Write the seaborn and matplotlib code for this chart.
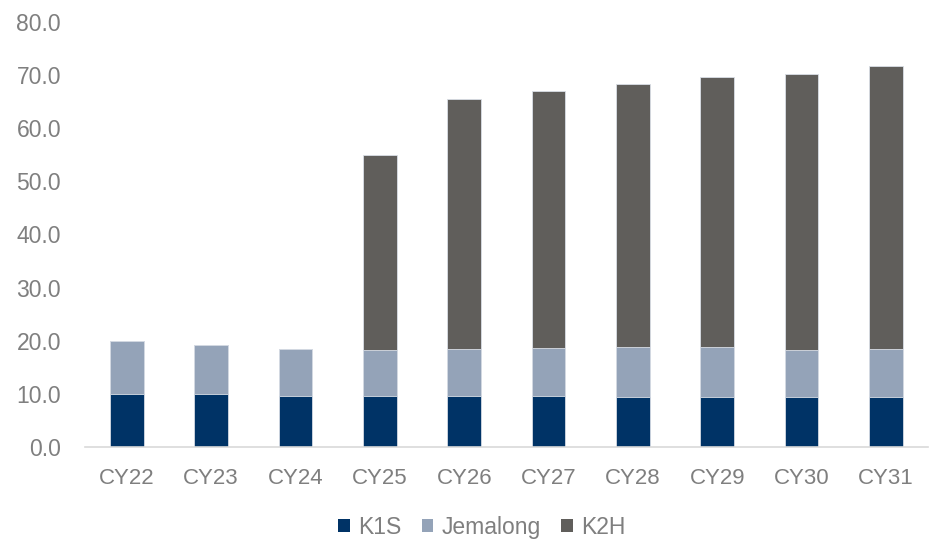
import matplotlib
matplotlib.use("Agg")
import matplotlib.pyplot as plt
import seaborn as sns
import numpy as np
import pandas as pd
from matplotlib.patches import Patch

categories = ["CY22", "CY23", "CY24", "CY25", "CY26", "CY27", "CY28", "CY29", "CY30", "CY31"]
k1s = [9.9, 9.9, 9.7, 9.6, 9.6, 9.6, 9.5, 9.4, 9.4, 9.4]
jemalong = [10.0, 9.3, 8.8, 8.6, 8.8, 9.0, 9.3, 9.5, 8.8, 9.0]
k2h = [0.0, 0.0, 0.0, 36.8, 47.0, 48.3, 49.4, 50.6, 51.9, 53.2]
yticks = [0, 10, 20, 30, 40, 50, 60, 70, 80]

series_names = ["K1S", "Jemalong", "K2H"]
colors = {"K1S": "#003366", "Jemalong": "#94A3B8", "K2H": "#605E5B"}

sns.set_theme(style="white")
plt.rcParams["font.family"] = ["Liberation Sans", "DejaVu Sans"]
text_color = "#7F7F7F"

fig = plt.figure(figsize=(9.3, 5.4), dpi=100)
ax = fig.add_axes([0.091, 0.172, 0.907, 0.788])

df = pd.DataFrame({"cat": categories, "K1S": k1s, "Jemalong": jemalong, "K2H": k2h})
cum = df[series_names].cumsum(axis=1)

# draw from top layer down so each lower layer overlays
for name in reversed(series_names):
    sns.barplot(x=df["cat"], y=cum[name], color=colors[name], width=0.4,
                edgecolor="#D9DEE6", linewidth=0.6, saturation=1, ax=ax)

ax.set_xlim(-0.5, len(categories) - 0.5)
ax.set_ylim(0, 80)
ax.set_yticks(yticks)
ax.set_yticklabels([f"{v:.1f}" for v in yticks])
ax.set_xlabel("")
ax.set_ylabel("")
for s in ["top", "right", "left"]:
    ax.spines[s].set_visible(False)
ax.spines["bottom"].set_color("#D9D9D9")
ax.spines["bottom"].set_linewidth(1.2)
ax.tick_params(axis="y", length=0, labelsize=16.5, labelcolor=text_color, pad=17)
ax.tick_params(axis="x", length=0, labelsize=16, labelcolor=text_color, pad=15)
ax.grid(False)

handles = [Patch(facecolor=colors[n], edgecolor="none", label=n) for n in series_names]
fig.legend(handles=handles, loc="center", bbox_to_anchor=(0.518, 0.024), ncol=3,
           frameon=False, fontsize=16.5, labelcolor=text_color, handlelength=0.5,
           handleheight=0.5, handletextpad=0.35, columnspacing=0.9)

fig.savefig("out.png", dpi=100)
